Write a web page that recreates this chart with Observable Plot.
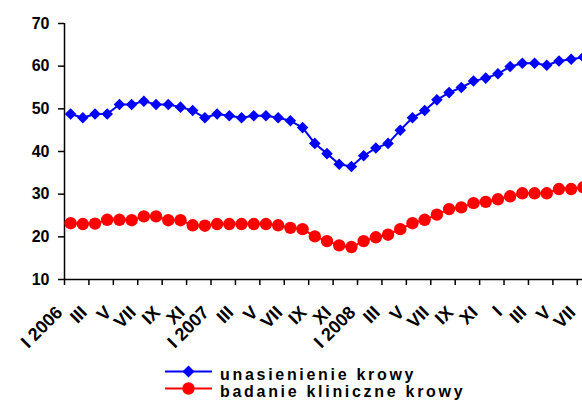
<!DOCTYPE html>
<html>
<head>
<meta charset="utf-8">
<script src="https://cdn.jsdelivr.net/npm/d3@7"></script>
<script src="https://cdn.jsdelivr.net/npm/@observablehq/plot@0.6"></script>
<style>
  html, body { margin: 0; padding: 0; background: white; overflow: hidden; width: 582px; height: 403px; }
  g[aria-label="xlabels"] text { letter-spacing: 1.5px; }
  #legend { margin-left: 165px; padding-top: 3px; font-family: 'Liberation Sans', Arial, sans-serif; font-weight: bold; font-size: 16px; letter-spacing: 2.7px; color: black; }
  #legend .row { display: flex; align-items: center; height: 17px; }
  #legend .row svg { flex: none; display: block; }
  #legend .row span { margin-left: 8px; position: relative; top: 3px; line-height: 17px; white-space: nowrap; }
</style>
</head>
<body>
<div id="chart"></div>
<div id="legend"></div>
<script>
// --- data (monthly, I 2006 .. VII 2009) ---
const seriesNames = ["unasienienie krowy", "badanie kliniczne krowy"];
const seriesColors = ["#0000ff", "#ff0000"];
const unasienienie = [48.8, 47.9, 48.8, 48.8, 51.0, 51.0, 51.8, 51.0, 51.0, 50.4, 49.6, 47.9,
                      48.8, 48.4, 47.9, 48.4, 48.4, 47.9, 47.2, 45.6, 41.9, 39.5, 37.0, 36.5,
                      39.0, 40.8, 41.9, 45.0, 47.9, 49.6, 52.1, 53.8, 55.0, 56.5, 57.2, 58.2,
                      59.9, 60.7, 60.7, 60.2, 61.2, 61.6, 62.1];
const badanie = [23.2, 23.0, 23.1, 24.0, 24.0, 23.9, 24.8, 24.8, 23.9, 23.9, 22.7, 22.6,
                 23.0, 23.0, 23.0, 23.0, 23.0, 22.7, 22.1, 21.8, 20.1, 19.0, 18.0, 17.6,
                 19.0, 19.9, 20.5, 21.8, 23.2, 24.0, 25.2, 26.5, 26.9, 27.9, 28.2, 28.8,
                 29.5, 30.2, 30.2, 30.2, 31.2, 31.2, 31.6];
const tickLabels = ["I 2006", "III", "V", "VII", "IX", "XI",
                    "I 2007", "III", "V", "VII", "IX", "XI",
                    "I 2008", "III", "V", "VII", "IX", "XI",
                    "I", "III", "V", "VII"];
const yTicks = [10, 20, 30, 40, 50, 60, 70];

// --- derived tables ---
const blueData = unasienienie.map((v, i) => ({i, v}));
const redData = badanie.map((v, i) => ({i, v}));
const labelData = tickLabels.map((t, k) => ({i: 2 * k, t}));
const tickPos = labelData.map(d => d.i - 0.5);

const font = "'Liberation Sans', Arial, sans-serif";

const chart = Plot.plot({
  width: 582,
  height: 360,
  marginLeft: 64,
  marginRight: -7,
  marginTop: 23,
  marginBottom: 81,
  x: {domain: [-0.5, unasienienie.length - 0.5], axis: null, label: null},
  y: {domain: [10, 70], axis: null, label: null},
  style: {fontFamily: font, overflow: "hidden", background: "white", color: "black"},
  marks: [
    Plot.axisY({ticks: yTicks, tickSize: 6, tickPadding: 9, fontSize: 16, fontWeight: "bold", strokeWidth: 1.5, label: null}),
    Plot.axisX({ticks: tickPos, tickSize: 6, tickFormat: () => "", strokeWidth: 1.5, label: null}),
    Plot.ruleY([10], {stroke: "black", strokeWidth: 1.5}),
    Plot.ruleX([-0.5], {y1: 10, y2: 70, stroke: "black", strokeWidth: 1.5}),
    Plot.text(labelData, {x: "i", frameAnchor: "bottom", text: "t", rotate: -45, textAnchor: "end", lineAnchor: "middle",
      dx: -11, dy: 30, fontSize: 18, fontWeight: "bold", fill: "black", ariaLabel: "xlabels"}),
    Plot.line(blueData, {x: "i", y: "v", stroke: seriesColors[0], strokeWidth: 2}),
    Plot.dot(blueData, {x: "i", y: "v", symbol: "diamond2", r: 5.2, fill: seriesColors[0], stroke: "none"}),
    Plot.line(redData, {x: "i", y: "v", stroke: seriesColors[1], strokeWidth: 2}),
    Plot.dot(redData, {x: "i", y: "v", symbol: "circle", r: 6.2, fill: seriesColors[1], stroke: "none"})
  ]
});
document.getElementById("chart").appendChild(chart);

// --- legend ---
const legend = document.getElementById("legend");
seriesNames.forEach((name, k) => {
  const row = document.createElement("div");
  row.className = "row";
  const c = seriesColors[k];
  const marker = k === 0
    ? `<polygon points="23.5,2.5 29.5,8.5 23.5,14.5 17.5,8.5" fill="${c}"/>`
    : `<circle cx="23.5" cy="8.5" r="6.2" fill="${c}"/>`;
  row.innerHTML = `<svg width="47" height="17"><line x1="0" x2="47" y1="8.5" y2="8.5" stroke="${c}" stroke-width="2"/>${marker}</svg><span>${name}</span>`;
  legend.appendChild(row);
});
</script>
</body>
</html>
